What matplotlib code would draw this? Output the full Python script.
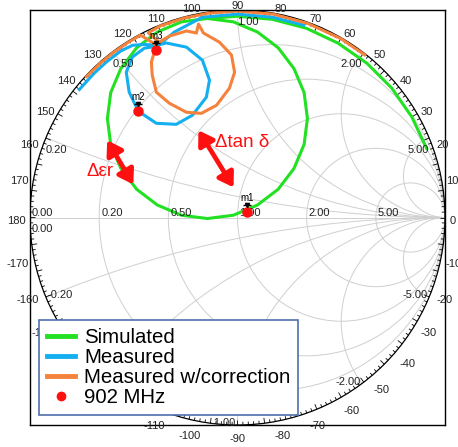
import numpy as np
import matplotlib.pyplot as plt
import matplotlib.transforms as mtransforms
from matplotlib.patches import Circle, FancyArrowPatch
from matplotlib.lines import Line2D
from matplotlib.collections import LineCollection

plt.rcParams['font.family'] = ['Liberation Sans', 'DejaVu Sans']

# ---------------------------------------------------------------------------
# Data: S11 traces as reflection coefficient (real, imag), read off the chart
# ---------------------------------------------------------------------------
sim_re = [-0.145, -0.020, 0.096, 0.196, 0.272, 0.321, 0.337, 0.321, 0.272, 0.196,
          0.096, -0.020, -0.145, -0.270, -0.386, -0.486, -0.562, -0.611, -0.627, -0.611,
          -0.562, -0.486, -0.386, -0.270, -0.145, 0.000, 0.168, 0.332, 0.485, 0.624,
          0.743, 0.840, 0.912]
sim_im = [0.959, 0.943, 0.894, 0.818, 0.718, 0.602, 0.477, 0.352, 0.236, 0.136,
          0.060, 0.011, -0.005, 0.011, 0.060, 0.136, 0.236, 0.352, 0.477, 0.602,
          0.718, 0.818, 0.894, 0.943, 0.959, 0.970, 0.955, 0.912, 0.840, 0.743,
          0.624, 0.485, 0.332]

meas_re = [-0.762, -0.693, -0.630, -0.562, -0.505, -0.449, -0.386, -0.343, -0.246, -0.169,
           -0.135, -0.150, -0.217, -0.295, -0.391, -0.478, -0.522, -0.536, -0.507, -0.449,
           -0.386, -0.304, -0.232, -0.170, 0.000, 0.170, 0.319]
meas_im = [0.617, 0.693, 0.751, 0.803, 0.830, 0.834, 0.830, 0.841, 0.821, 0.758,
           0.662, 0.580, 0.493, 0.449, 0.454, 0.512, 0.604, 0.700, 0.773, 0.816,
           0.826, 0.894, 0.932, 0.965, 0.980, 0.965, 0.927]

corr_re = [-0.728, -0.666, -0.599, -0.527, -0.467, -0.391, -0.415, -0.411, -0.391, -0.329,
           -0.246, -0.174, -0.101, -0.039, -0.014, -0.029, -0.087, -0.164, -0.188, -0.198,
           -0.246, -0.329, -0.377, -0.430, -0.373, -0.258, -0.138, 0.000, 0.173, 0.340,
           0.498, 0.613]
corr_im = [0.679, 0.739, 0.795, 0.844, 0.879, 0.831, 0.749, 0.686, 0.604, 0.551,
           0.507, 0.502, 0.541, 0.623, 0.700, 0.783, 0.845, 0.889, 0.932, 0.889,
           0.899, 0.874, 0.845, 0.890, 0.923, 0.961, 0.985, 0.995, 0.980, 0.935,
           0.862, 0.784]

# 902 MHz markers
mk_names = ['m1', 'm2', 'm3']
mk_re = [0.046, -0.478, -0.391]
mk_im = [0.028, 0.512, 0.807]

# chart grid
r_values = [0.2, 0.5, 1.0, 2.0, 5.0]
x_values = [0.2, 0.5, 1.0, 2.0, 5.0]
angle_labels = list(range(0, 190, 10)) + list(range(-10, -180, -10))

GREEN = '#22e022'
BLUE = '#14aff0'
ORANGE = '#f5823c'
RED = '#ff1010'
GRID = '#cfcfcf'
TXT = '#222222'

# ---------------------------------------------------------------------------
fig = plt.figure(figsize=(4.58, 4.47), dpi=100)
ax = fig.add_axes([30 / 458, 22 / 447, 415 / 458, 415 / 447])
ax.set_xlim(-1, 1)
ax.set_ylim(-1, 1)
ax.set_xticks([])
ax.set_yticks([])
for sp in ax.spines.values():
    sp.set_color('black')
    sp.set_linewidth(1.0)

unit = Circle((0, 0), 1, fill=False, ec='none')
ax.add_patch(unit)

# resistance circles and reactance arcs
for r in r_values:
    ax.add_patch(Circle((r / (1 + r), 0), 1 / (1 + r), fill=False, ec=GRID, lw=0.7))
for x in x_values:
    for s in (1, -1):
        c = Circle((1, s / x), 1 / x, fill=False, ec=GRID, lw=0.7)
        ax.add_patch(c)
        c.set_clip_path(unit)
ax.plot([-1, 1], [0, 0], color=GRID, lw=0.7)

# outer circle + rim ticks
ax.add_patch(Circle((0, 0), 1, fill=False, ec='black', lw=0.9))
segs = []
for k in range(240):
    t = np.radians(k * 1.5)
    ln = 0.026 if k % 5 == 0 else 0.015
    segs.append([(np.cos(t), np.sin(t)), ((1 - ln) * np.cos(t), (1 - ln) * np.sin(t))])
ax.add_collection(LineCollection(segs, colors='black', linewidths=0.6))

for a in angle_labels:
    t = np.radians(a)
    cx, cy = np.cos(t), np.sin(t)
    x, y = 1.02 * cx, 1.02 * cy
    ha = 'center' if abs(cx) < 0.05 else ('left' if cx > 0 else 'right')
    if a < 0:
        y -= 0.048
    elif a in (0, 180):
        y -= 0.018
    ax.text(x, y, str(a), ha=ha, va='center', fontsize=8, color=TXT, clip_on=False)

# resistance labels on the real axis
ax.text(-0.99, 0.005, '0.00', ha='left', va='baseline', fontsize=8, color=TXT)
ax.text(-0.99, -0.07, '0.00', ha='left', va='baseline', fontsize=8, color=TXT)
for r in r_values:
    g = (r - 1) / (r + 1)
    ax.text(g + 0.01, 0.005, f'{r:.2f}', ha='left', va='baseline', fontsize=8, color=TXT)

# reactance labels at the rim
for x in x_values:
    for s in (1, -1):
        g = (1j * s * x - 1) / (1j * s * x + 1)
        if s > 0:
            ha = 'left' if x <= 1 else 'right'
            ax.text(g.real, g.imag - 0.074, f'{x:.2f}', ha=ha, va='baseline',
                    fontsize=8, color=TXT)
        else:
            ha = 'left' if x < 1 else 'right'
            dx = 0.008 if x < 1 else -0.008
            ax.text(g.real + dx, g.imag - 0.005, f'-{x:.2f}', ha=ha, va='baseline',
                    fontsize=8, color=TXT)

# traces
ax.plot(sim_re, sim_im, color=GREEN, lw=2.2, solid_joinstyle='round')
ax.plot(meas_re, meas_im, color=BLUE, lw=2.2, solid_joinstyle='round')
ax.plot(corr_re, corr_im, color=ORANGE, lw=2.2, solid_joinstyle='round')

# markers
ax.plot(mk_re, mk_im, 'o', color=RED, ms=6.5, zorder=5)
tr_flag = mtransforms.offset_copy(ax.transData, fig=fig, x=0, y=7, units='dots')
tr_lab = mtransforms.offset_copy(ax.transData, fig=fig, x=0, y=14, units='dots')
ax.plot(mk_re, mk_im, '_', color='black', ms=6, mew=1, transform=tr_flag, zorder=5)
ax.plot(mk_re, mk_im, 'v', color='black', ms=3, transform=tr_flag, zorder=5)
for name, xr, xi in zip(mk_names, mk_re, mk_im):
    ax.text(xr, xi, name, transform=tr_lab, ha='center', va='center', fontsize=7,
            color='black', zorder=5)

# annotation arrows
for pa, pb in [((-0.628, 0.372), (-0.502, 0.159)), ((-0.188, 0.420), (-0.019, 0.145))]:
    ax.add_patch(FancyArrowPatch(pa, pb, arrowstyle='<|-|>,head_length=0.7,head_width=0.45',
                                 mutation_scale=12, lw=3.4, color=RED,
                                 shrinkA=0, shrinkB=0, zorder=6))
ax.text(-0.66, 0.222, 'Δεr', color=RED, fontsize=13.5, ha='center', va='center')
ax.text(0.024, 0.361, 'Δtan δ', color=RED, fontsize=13.5, ha='center', va='center')

# legend
handles = [Line2D([], [], color=GREEN, lw=3.5),
           Line2D([], [], color=BLUE, lw=3.5),
           Line2D([], [], color=ORANGE, lw=3.5),
           Line2D([], [], color=RED, marker='o', ls='none', ms=6)]
labels = ['Simulated', 'Measured', 'Measured w/correction', '902 MHz']
leg = ax.legend(handles, labels, loc='lower left', bbox_to_anchor=(39 / 458, 32 / 447),
                bbox_transform=fig.transFigure, borderaxespad=0, fontsize=14.7,
                handlelength=1.35, handletextpad=0.45, labelspacing=0.05,
                borderpad=0.4, fancybox=False, framealpha=1)
leg.get_frame().set_edgecolor('#4f6fad')
leg.get_frame().set_linewidth(1.2)
leg.set_zorder(10)

fig.savefig('out.png', dpi=100)
